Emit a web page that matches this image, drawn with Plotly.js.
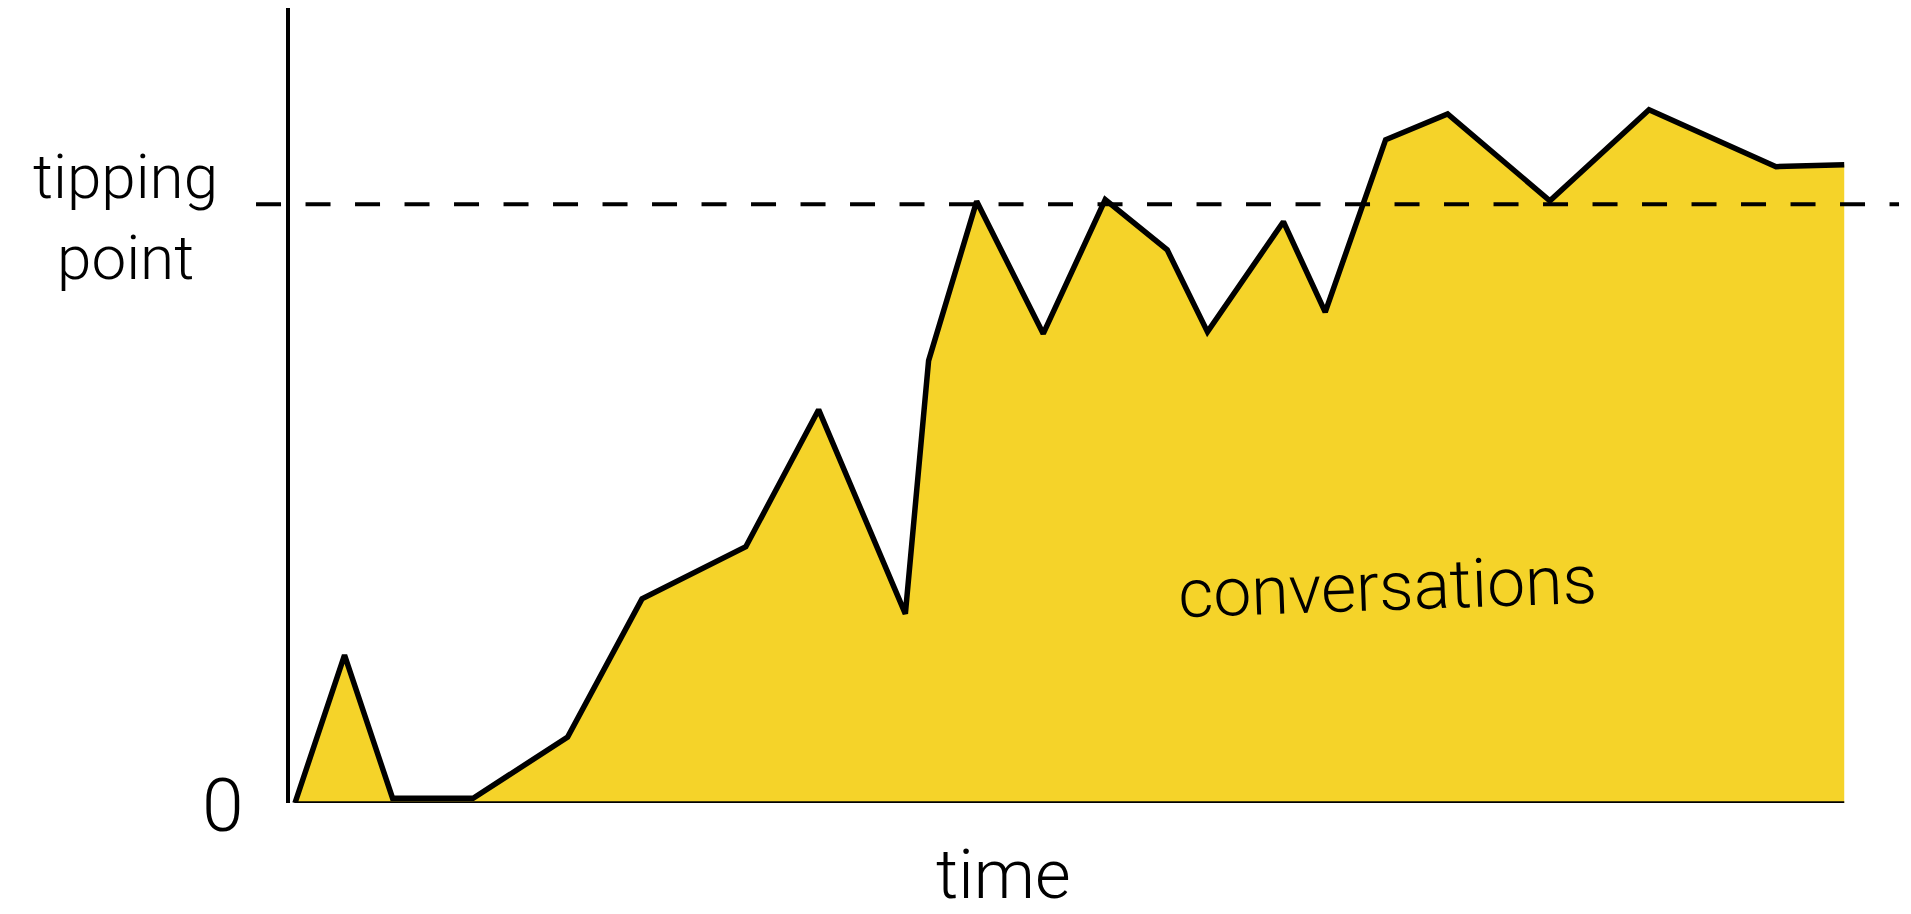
<!DOCTYPE html>
<html>
<head>
<meta charset="utf-8">
<script src="https://cdn.plot.ly/plotly-3.0.1.min.js"></script>
<style>
  html, body { margin: 0; padding: 0; background: #ffffff; }
  #chart { width: 1911px; height: 914px; }
</style>
</head>
<body>
<div id="chart"></div>
<script>
// ---- data ----
const timePoints = [0, 3.2, 6.3, 11.5, 17.6, 22.4, 29.1, 33.8, 39.4, 40.9, 44.0, 48.3,
                    52.3, 56.3, 58.9, 63.8, 66.5, 70.4, 74.4, 81.0, 87.4, 95.6, 100];
const conversations = [0, 24.7, 0.8, 0.8, 11.0, 34.1, 42.8, 65.7, 31.6, 73.9, 100.5, 78.4,
                       100.8, 92.4, 78.7, 97.1, 82.0, 110.8, 115.1, 100.6, 115.8, 106.3, 106.6];
const tippingLevel = 100;
const yTickValues = [0, tippingLevel];
const yTickLabels = ["0", "tipping<br>point"];
const seriesLabel = "conversations";
const xAxisLabel = "time";

const YELLOW = "#F5D329";
const FONT = "Roboto, 'Liberation Sans', Arial, sans-serif";

const traces = [
  {
    type: "scatter",
    mode: "lines",
    x: timePoints,
    y: conversations,
    fill: "tozeroy",
    fillcolor: YELLOW,
    line: { color: "#000000", width: 5.5, shape: "linear" },
    hoverinfo: "skip",
    showlegend: false
  },
  {
    type: "scatter",
    mode: "lines",
    x: [timePoints[0], timePoints[timePoints.length - 1]],
    y: [0, 0],
    line: { color: "#000000", width: 3.5 },
    hoverinfo: "skip",
    showlegend: false
  }
];

const layout = {
  width: 1911,
  height: 914,
  margin: { l: 290, r: 11, t: 8, b: 111 },
  paper_bgcolor: "#ffffff",
  plot_bgcolor: "#ffffff",
  showlegend: false,
  xaxis: {
    range: [-0.32, 103.6],
    showgrid: false, zeroline: false, showline: false,
    showticklabels: false, ticks: "", fixedrange: true
  },
  yaxis: {
    range: [0, 132.8],
    showgrid: false, zeroline: false,
    showline: true, linecolor: "#000000", linewidth: 4,
    showticklabels: false, ticks: "", fixedrange: true
  },
  shapes: [
    {
      type: "line", layer: "above",
      xref: "paper", yref: "y",
      x0: -0.0211, x1: 0.9994,
      y0: tippingLevel, y1: tippingLevel,
      line: { color: "#000000", width: 4, dash: "25px,24.5px" }
    }
  ],
  annotations: [
    {
      text: yTickLabels[1], xref: "paper", yref: "y",
      x: -0.1019, y: yTickValues[1], yshift: -13,
      xanchor: "center", yanchor: "middle", align: "center",
      showarrow: false,
      font: { family: FONT, size: 62, color: "#000000", weight: 300 }
    },
    {
      text: yTickLabels[0], xref: "paper", yref: "y",
      x: -0.0416, y: yTickValues[0], yshift: -2,
      xanchor: "center", yanchor: "middle",
      showarrow: false,
      font: { family: FONT, size: 75, color: "#000000", weight: 300 }
    },
    {
      text: xAxisLabel, xref: "paper", yref: "paper",
      x: 0.443, y: -0.09,
      xanchor: "center", yanchor: "middle",
      showarrow: false,
      font: { family: FONT, size: 69, color: "#000000", weight: 300 }
    },
    {
      text: seriesLabel, xref: "x", yref: "y",
      x: 70.5, y: 36,
      xanchor: "center", yanchor: "middle",
      textangle: -2,
      showarrow: false,
      font: { family: FONT, size: 68, color: "#000000", weight: 300 }
    }
  ]
};

Plotly.newPlot("chart", traces, layout, { displayModeBar: false, staticPlot: true });
</script>
</body>
</html>
